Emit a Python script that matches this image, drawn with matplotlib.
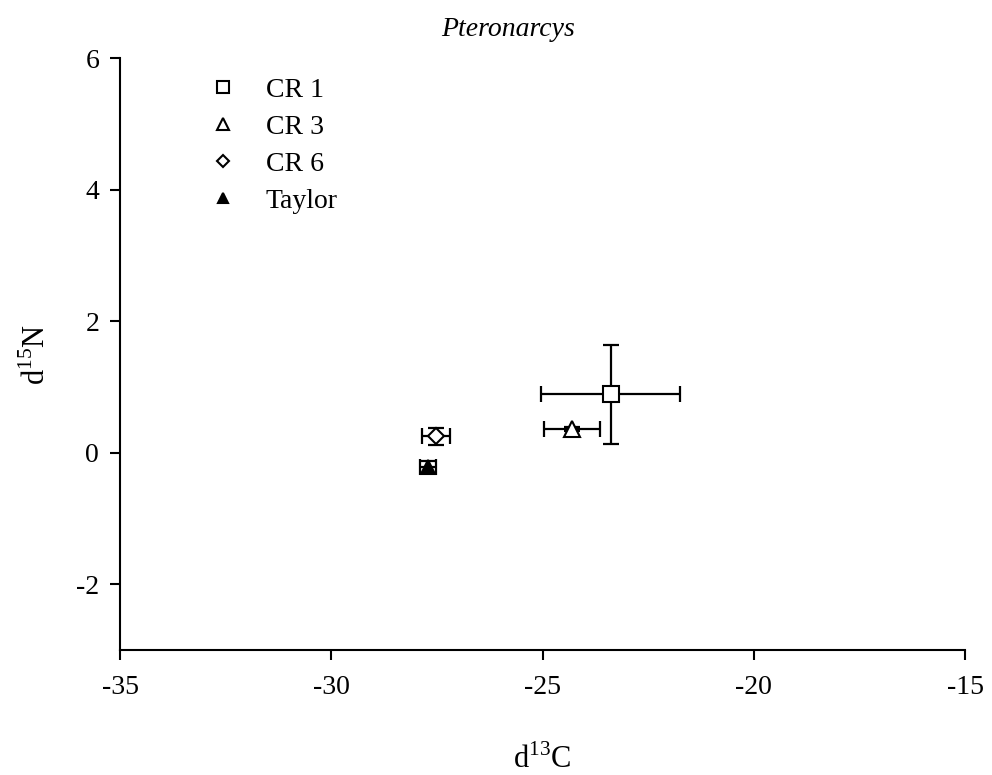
import matplotlib

matplotlib.use("Agg")
import matplotlib.pyplot as plt

# mean and error values
sites = ["CR 1", "CR 3", "CR 6", "Taylor"]
d13c = [-23.39, -24.30, -27.52, -27.72]
d13c_err = [1.65, 0.66, 0.33, 0.19]
d15n = [0.89, 0.36, 0.25, -0.21]
d15n_err = [0.75, 0.03, 0.13, 0.09]

markers = ["s", "^", "D", "^"]
faces = ["white", "white", "white", "black"]
sizes = [11, 11, 8, 10]

plt.rcParams["font.family"] = ["Liberation Serif", "DejaVu Serif"]
plt.rcParams["mathtext.fontset"] = "custom"
plt.rcParams["mathtext.rm"] = "Liberation Serif"

fig = plt.figure(figsize=(9.92, 7.75), dpi=100)
ax = fig.add_axes([0.121, 0.161, 0.852, 0.764])

for i, name in enumerate(sites):
    ax.errorbar(
        d13c[i], d15n[i], xerr=d13c_err[i], yerr=d15n_err[i],
        fmt="none", ecolor="black", elinewidth=1.6, capsize=6, capthick=1.6, zorder=2,
    )
    ax.plot(
        d13c[i], d15n[i], linestyle="none", marker=markers[i], markersize=sizes[i],
        markerfacecolor=faces[i], markeredgecolor="black", markeredgewidth=1.5,
        label=name, zorder=3,
    )

ax.set_xlim(-35, -15)
ax.set_ylim(-3, 6)
ax.set_xticks([-35, -30, -25, -20, -15])
ax.set_yticks([-2, 0, 2, 4, 6])
ax.set_xticklabels(["-35", "-30", "-25", "-20", "-15"])
ax.set_yticklabels(["-2", "0", "2", "4", "6"])
ax.tick_params(direction="out", length=7, width=1.5, labelsize=20)
ax.tick_params(axis="y", pad=8)
ax.tick_params(axis="x", pad=11)
ax.spines["top"].set_visible(False)
ax.spines["right"].set_visible(False)
ax.spines["left"].set_linewidth(1.5)
ax.spines["bottom"].set_linewidth(1.5)

fig.text(0.512, 0.953, "Pteronarcys", fontstyle="italic", fontsize=20,
         ha="center", va="baseline")
ax.set_xlabel("d$^{13}$C", fontsize=22, labelpad=32)
ax.set_ylabel("d$^{15}$N", fontsize=22, labelpad=17)

ax.legend(
    loc="upper left", bbox_to_anchor=(0.0755, 1.01), frameon=False, fontsize=20,
    markerscale=0.75, handlelength=1.0, handletextpad=1.05, labelspacing=0.42,
)

fig.savefig("out.png", dpi=100)
